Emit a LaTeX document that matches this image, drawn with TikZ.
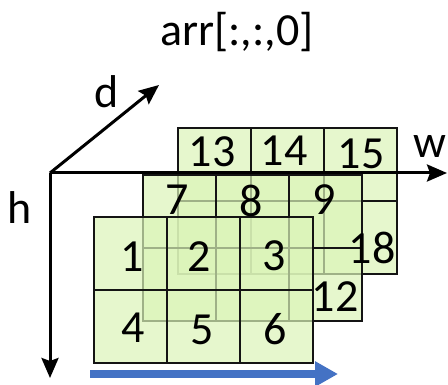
\documentclass[tikz,border=0pt]{standalone}
\usepackage{fontspec}
\setmainfont{Carlito}
\usetikzlibrary{arrows.meta}
\definecolor{cellgreen}{RGB}{219,244,184}
\definecolor{arrblue}{RGB}{68,114,196}

\begin{document}
\begin{tikzpicture}[x=1pt,y=-1pt,font=\fontsize{46}{54}\selectfont,
    layer/.style={fill=cellgreen,fill opacity=0.7},
    cell/.style={draw=black!92,line width=2.8pt},
    num/.style={inner sep=0pt},
    axis/.style={line width=3pt,-{Stealth[length=20pt,width=17pt,inset=3pt]}}]
  \useasboundingbox (0,0) rectangle (448,385);
  % three slices, back to front
  \foreach \x/\y in {178/128,143/175,94/217}{
    \fill[layer] (\x,\y) rectangle +(219,146);
    \foreach \i in {0,1,2}
      \foreach \j in {0,1}
        \draw[cell] (\x+73*\i,\y+73*\j) rectangle +(73,73);
  }
  \foreach \n/\a/\b in {13/212/152,14/284/151,15/361/154,7/177/200,8/251/201,9/324/200,
      18/372/248,12/335/297,1/132/257,2/199/257,3/274/256,4/133/328,5/202/330,6/275/329}
    \node[num] (n\n) at (\a,\b) {\n};
  % axes
  \coordinate (o) at (50,173);
  \coordinate (hend) at (50,378);
  \coordinate (wend) at (447,173);
  \coordinate (dend) at (159,85);
  \draw[axis] (o) -- (hend);
  \draw[axis] (o) -- (wend);
  \draw[axis] (o) -- (dend);
  \node[num] (h) at (20,208) {h};
  \node[num] (w) at (430,146) {w};
  \node[num] (d) at (107,92) {d};
  \node[num] (title) at (237,32) {arr[:,:,0]};
  % blue arrow
  \coordinate (bs) at (90,374);
  \coordinate (be) at (338,374);
  \draw[arrblue,line width=8pt,-{Triangle[length=23pt,width=24pt]}] (bs) -- (be);
\end{tikzpicture}
\end{document}
